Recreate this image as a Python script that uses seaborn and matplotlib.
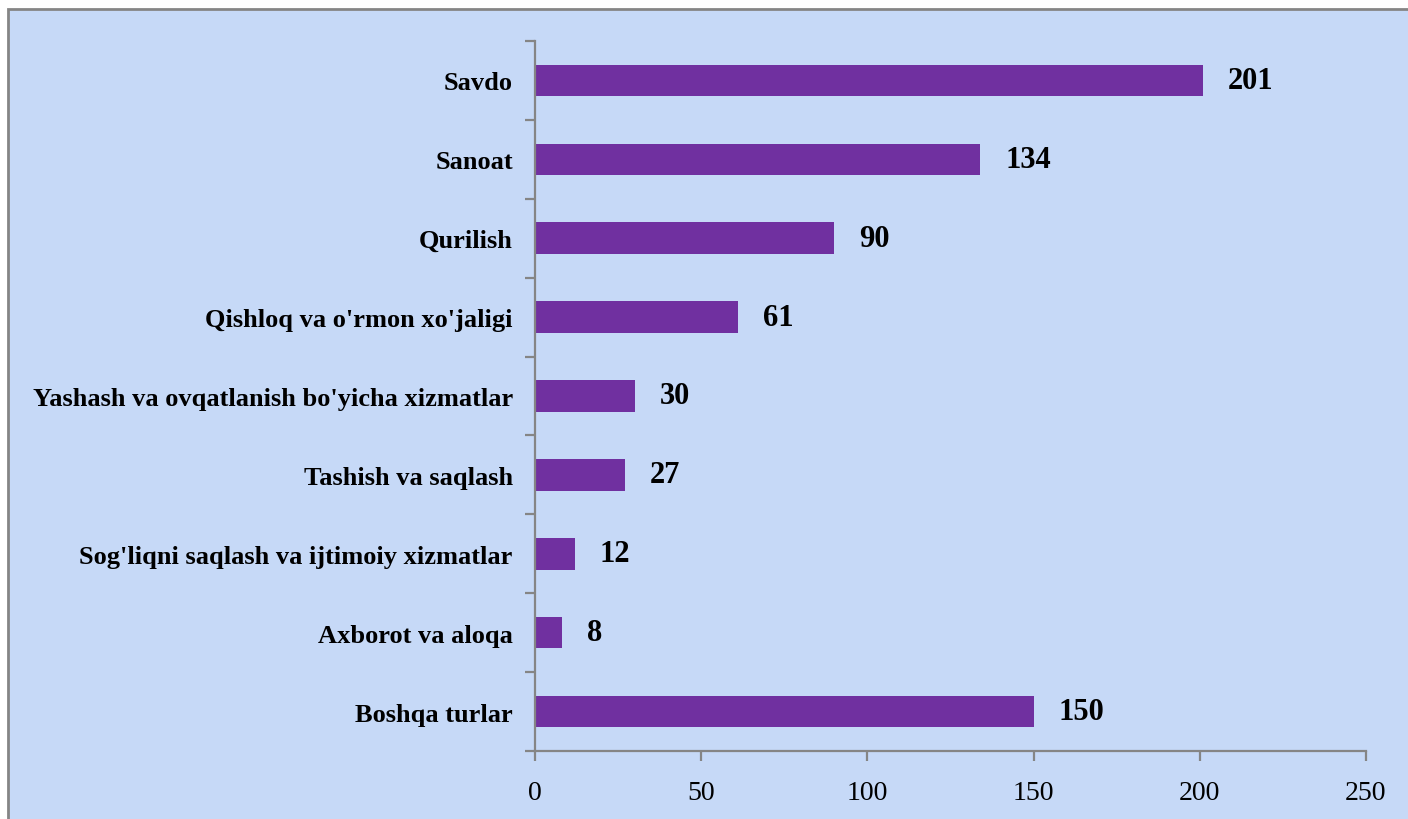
import matplotlib
matplotlib.use("Agg")
import matplotlib.pyplot as plt
import seaborn as sns
import pandas as pd
from matplotlib.patches import Rectangle
from matplotlib.ticker import MultipleLocator

# sectors and number of enterprises
sectors = [
    "Savdo",
    "Sanoat",
    "Qurilish",
    "Qishloq va o'rmon xo'jaligi",
    "Yashash va ovqatlanish bo'yicha xizmatlar",
    "Tashish va saqlash",
    "Sog'liqni saqlash va ijtimoiy xizmatlar",
    "Axborot va aloqa",
    "Boshqa turlar",
]
counts = [201, 134, 90, 61, 30, 27, 12, 8, 150]
x_ticks = [0, 50, 100, 150, 200, 250]

df = pd.DataFrame({"sector": sectors, "count": counts})

sns.set_style("white")
plt.rcParams["font.family"] = ["Liberation Serif", "DejaVu Serif"]
plt.rcParams["text.color"] = "black"
plt.rcParams["xtick.color"] = "black"
plt.rcParams["ytick.color"] = "black"

bg = "#c6d9f7"
gray = "#858585"

fig = plt.figure(figsize=(14.08, 8.2), dpi=100)
fig.patch.set_facecolor("white")
# background panel with gray frame (right/bottom edges run off the image)
fig.patches.append(Rectangle((8 / 1408, -0.05), 1.1, 1 - 10 / 820 + 0.05,
                             transform=fig.transFigure, facecolor=bg,
                             edgecolor=gray, linewidth=2, zorder=-10))

ax = fig.add_axes([535 / 1408, 1 - 752 / 820, (1366 - 535) / 1408, (752 - 42) / 820])
ax.set_facecolor("none")
ax.set_zorder(5)

sns.barplot(data=df, x="count", y="sector", orient="h", color="#7030a0",
            saturation=1, width=0.4, linewidth=0, ax=ax)

ax.set_xlim(0, 250)
ax.set_ylim(len(sectors) - 0.5, -0.5)
ax.set_xticks(x_ticks)
ax.set_xlabel("")
ax.set_ylabel("")

for s in ["top", "right"]:
    ax.spines[s].set_visible(False)
for s in ["left", "bottom"]:
    ax.spines[s].set_color(gray)
    ax.spines[s].set_linewidth(1.6)

ax.tick_params(axis="x", bottom=True, direction="out", length=7, width=1.6,
               color=gray, labelcolor="black", pad=14, labelsize=20)
ax.tick_params(axis="y", which="major", left=True, length=0, pad=16,
               labelsize=19, labelcolor="black")
for lab in ax.get_yticklabels():
    lab.set_fontweight("bold")
ax.yaxis.set_minor_locator(MultipleLocator(1, offset=0.5))
ax.tick_params(axis="y", which="minor", left=True, direction="out", length=7,
               width=1.6, color=gray)

ax.bar_label(ax.containers[0], padding=18, fontsize=22, fontweight="bold",
             color="black")

fig.savefig("out.png", dpi=100)
